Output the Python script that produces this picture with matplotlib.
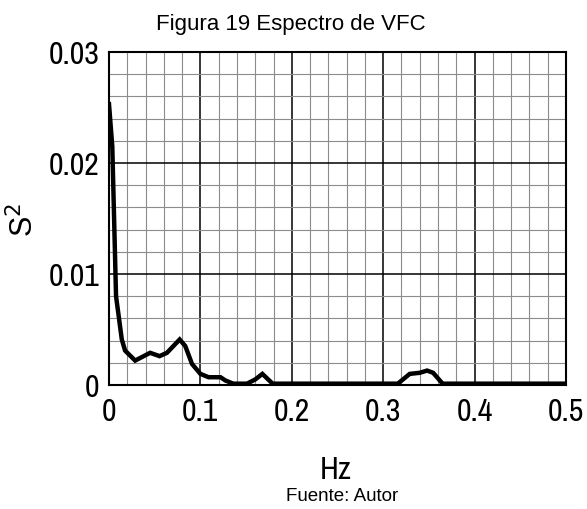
import numpy as np
import matplotlib
matplotlib.use("Agg")
import matplotlib.pyplot as plt
from matplotlib.ticker import MultipleLocator

# espectro de potencia de la VFC
freq = [0.0, 0.0036, 0.0077, 0.014, 0.0176, 0.0286, 0.045, 0.0553, 0.0634,
        0.0773, 0.0835, 0.0908, 0.100, 0.109, 0.122, 0.1275, 0.136, 0.151,
        0.160, 0.1678, 0.179, 0.316, 0.329, 0.340, 0.348, 0.3546, 0.365, 0.5]
psd = [0.0253, 0.0215, 0.0080, 0.0041, 0.0031, 0.0022, 0.0029, 0.0026, 0.0029,
       0.0041, 0.0035, 0.0019, 0.0010, 0.0007, 0.0007, 0.0004, 0.00012, 0.00012,
       0.0005, 0.0010, 0.00012, 0.00012, 0.0010, 0.0011, 0.0013, 0.0011, 0.00012, 0.00012]

xticks = [0, 0.1, 0.2, 0.3, 0.4, 0.5]
xlabels = ["0", "0.1", "0.2", "0.3", "0.4", "0.5"]
yticks = [0, 0.01, 0.02, 0.03]
ylabels = ["0", "0.01", "0.02", "0.03"]

narrow = ["Archivo Narrow", "DejaVu Sans"]
arial = ["Liberation Sans", "DejaVu Sans"]

fig = plt.figure(figsize=(5.87, 5.10), dpi=100)
ax = fig.add_axes([109/587, 1 - 386/510, (566 - 109)/587, (386 - 53)/510])

ax.plot(freq, psd, color="black", lw=3.2, solid_joinstyle="miter", zorder=3)

ax.set_xlim(0, 0.5)
ax.set_ylim(0, 0.03)
ax.set_xticks(xticks)
ax.set_xticklabels(xlabels, family=narrow, fontsize=23)
ax.set_yticks(yticks)
ax.set_yticklabels(ylabels, family=narrow, fontsize=23)
ax.xaxis.set_minor_locator(MultipleLocator(0.02))
ax.yaxis.set_minor_locator(MultipleLocator(0.002))
ax.tick_params(which="both", length=0)
ax.tick_params(axis="x", pad=9)
ax.tick_params(axis="y", pad=7)

ax.grid(which="major", color="black", lw=1.1)
ax.grid(which="minor", color="#8c8c8c", lw=0.8)
ax.set_axisbelow(True)
for s in ax.spines.values():
    s.set_linewidth(1.5)
    s.set_color("black")

ax.set_xlabel("Hz", family=narrow, fontsize=23)
ax.xaxis.set_label_coords(0.497, -0.21)
ax.set_ylabel("S$^2$", family=arial, fontsize=22)
ax.yaxis.set_label_coords(-0.15, 0.5)

fig.text(0.495, 0.951, "Figura 19 Espectro de VFC", ha="center", va="center",
         family=arial, fontsize=16)
fig.text(0.583, 0.027, "Fuente: Autor", ha="center", va="center",
         family=arial, fontsize=13.5)

fig.savefig("out.png", dpi=100)
